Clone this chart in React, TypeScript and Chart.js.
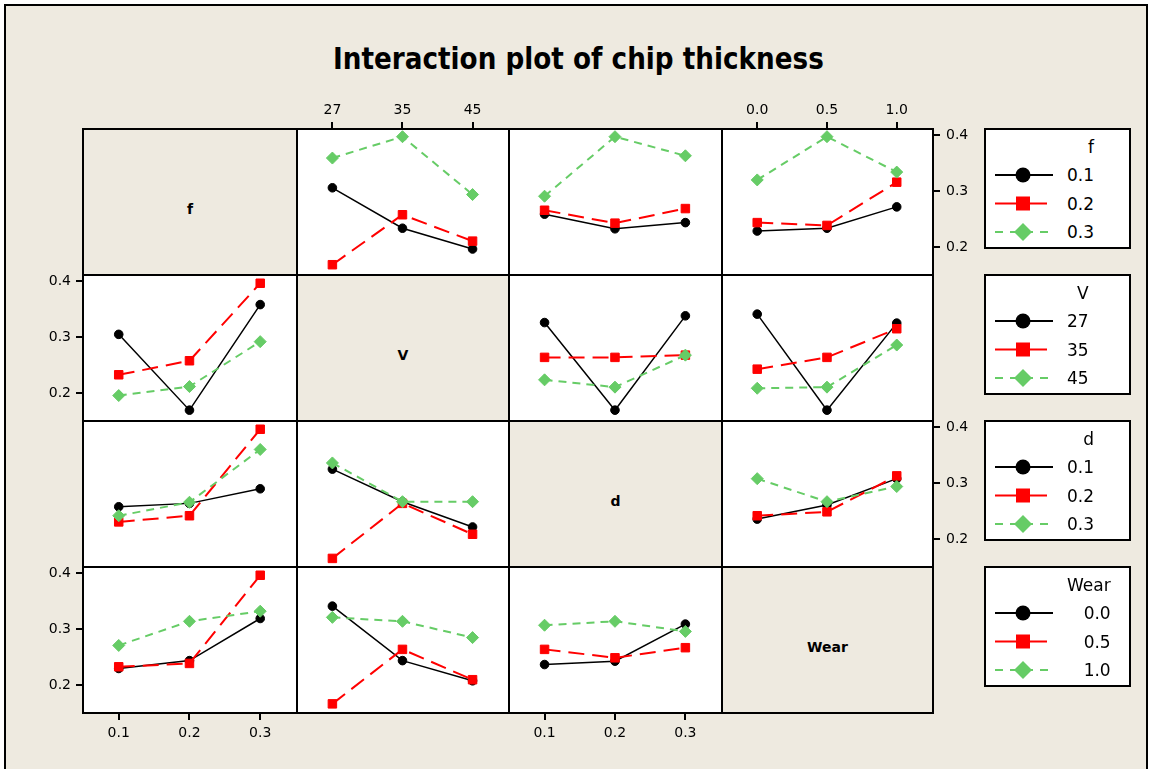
import React, { useEffect, useRef } from 'react';
import { Chart, registerables } from 'chart.js';

Chart.register(...registerables);

const BEIGE = '#EEEAE0';
const FONT = "'DejaVu Sans', Verdana, sans-serif";
Chart.defaults.font.family = FONT;

// ---------- data ----------
const factorNames = ['f', 'V', 'd', 'Wear'];
const fLevels = ['0.1', '0.2', '0.3'];
const vLevels = ['27', '35', '45'];
const dLevels = ['0.1', '0.2', '0.3'];
const wearLevels = ['0.0', '0.5', '1.0'];
const factorLevels = [fLevels, vLevels, dLevels, wearLevels];
const yTickValues = [0.2, 0.3, 0.4];

// Row f: lines = f levels (0.1, 0.2, 0.3)
const f_vs_V = [[0.306, 0.234, 0.197], [0.169, 0.258, 0.211], [0.359, 0.397, 0.294]];
const f_vs_d = [[0.259, 0.233, 0.244], [0.266, 0.243, 0.269], [0.291, 0.397, 0.363]];
const f_vs_Wear = [[0.229, 0.234, 0.272], [0.244, 0.239, 0.316], [0.320, 0.397, 0.334]];
// Row V: lines = V levels (27, 35, 45)
const V_vs_f = [[0.305, 0.170, 0.358], [0.233, 0.258, 0.396], [0.196, 0.212, 0.292]];
const V_vs_d = [[0.326, 0.170, 0.338], [0.264, 0.264, 0.268], [0.224, 0.211, 0.268]];
const V_vs_Wear = [[0.341, 0.170, 0.325], [0.243, 0.264, 0.315], [0.209, 0.211, 0.286]];
// Row d: lines = d levels (0.1, 0.2, 0.3)
const d_vs_f = [[0.258, 0.264, 0.290], [0.231, 0.242, 0.396], [0.242, 0.266, 0.360]];
const d_vs_V = [[0.325, 0.267, 0.222], [0.166, 0.264, 0.209], [0.336, 0.267, 0.267]];
const d_vs_Wear = [[0.236, 0.261, 0.308], [0.242, 0.249, 0.313], [0.308, 0.267, 0.294]];
// Row Wear: lines = Wear levels (0.0, 0.5, 1.0)
const Wear_vs_f = [[0.230, 0.244, 0.319], [0.233, 0.239, 0.396], [0.271, 0.314, 0.332]];
const Wear_vs_V = [[0.341, 0.244, 0.208], [0.167, 0.264, 0.210], [0.321, 0.314, 0.285]];
const Wear_vs_d = [[0.237, 0.243, 0.309], [0.264, 0.249, 0.267], [0.307, 0.314, 0.296]];

const panelData: (number[][] | null)[][] = [
  [null, f_vs_V, f_vs_d, f_vs_Wear],
  [V_vs_f, null, V_vs_d, V_vs_Wear],
  [d_vs_f, d_vs_V, null, d_vs_Wear],
  [Wear_vs_f, Wear_vs_V, Wear_vs_d, null],
];

// ---------- layout & style ----------
const colX = [83, 297, 509, 722, 933];
const rowY = [129, 275, 421, 567, 713];
const M = 60;
const Y_MIN = 0.1507;
const Y_MAX = 0.4107;
const X_MIN = -0.505;
const X_MAX = 2.52;
const TICK_FONT = 14;

const GREEN = '#66CC66';
const seriesStyles = [
  { color: '#000000', dash: [] as number[], width: 1.5, point: 'circle', radius: 4.3 },
  { color: '#FF0000', dash: [16, 8], width: 2, point: 'rect', radius: 6 },
  { color: GREEN, dash: [8, 6], width: 2, point: 'rectRot', radius: 6 },
];

const panelPlugin = {
  id: 'panelFrame',
  beforeDraw(chart: any) {
    const { ctx, chartArea: a } = chart;
    ctx.save();
    ctx.fillStyle = '#ffffff';
    ctx.fillRect(a.left, a.top, a.right - a.left, a.bottom - a.top);
    ctx.restore();
  },
  afterDraw(chart: any) {
    const { ctx, chartArea: a } = chart;
    ctx.save();
    ctx.strokeStyle = '#000000';
    ctx.lineWidth = 2;
    ctx.strokeRect(a.left, a.top, a.right - a.left, a.bottom - a.top);
    ctx.restore();
  },
};

function Panel({ r, c }: { r: number; c: number }) {
  const ref = useRef<HTMLCanvasElement | null>(null);
  const w = colX[c + 1] - colX[c];
  const h = rowY[r + 1] - rowY[r];
  useEffect(() => {
    const series = panelData[r][c] as number[][];
    const xLevels = factorLevels[c];
    const showTop = r === 0 && (c === 1 || c === 3);
    const showBottom = r === 3 && (c === 0 || c === 2);
    const showLeft = c === 0 && (r === 1 || r === 3);
    const showRight = c === 3 && (r === 0 || r === 2);
    const showX = showTop || showBottom;
    const showY = showLeft || showRight;
    const datasets = series.map((vals, i) => {
      const st = seriesStyles[i];
      return {
        label: factorLevels[r][i],
        data: vals.map((v, j) => ({ x: j, y: v })),
        borderColor: st.color,
        backgroundColor: st.color,
        borderWidth: st.width,
        borderDash: st.dash,
        pointStyle: st.point,
        pointRadius: st.radius,
        pointBackgroundColor: st.color,
        pointBorderColor: st.color,
        pointBorderWidth: 1,
        tension: 0,
        fill: false,
        order: 2 - i,
        clip: 10,
      };
    });
    const chart = new Chart(ref.current as HTMLCanvasElement, {
      type: 'line',
      data: { datasets } as any,
      options: {
        animation: false,
        responsive: false,
        maintainAspectRatio: false,
        devicePixelRatio: 1,
        events: [],
        layout: {
          padding: {
            left: showLeft ? 0 : M,
            right: showRight ? 0 : M,
            top: showTop ? 0 : M,
            bottom: showBottom ? 0 : M,
          },
        },
        plugins: { legend: { display: false }, tooltip: { enabled: false } },
        scales: {
          x: {
            type: 'linear',
            min: X_MIN,
            max: X_MAX,
            position: showTop ? 'top' : 'bottom',
            display: showX,
            afterBuildTicks: (s: any) => {
              s.ticks = xLevels.map((_, i) => ({ value: i }));
            },
            afterFit: (s: any) => {
              s.height = showX ? M : 0;
            },
            ticks: {
              callback: (v: any) => xLevels[Math.round(Number(v))] ?? '',
              font: { family: FONT, size: TICK_FONT },
              color: '#000',
              padding: showTop ? 3 : 5,
              maxRotation: 0,
              autoSkip: false,
            },
            grid: { drawOnChartArea: false, drawTicks: true, tickLength: 7, color: '#000', lineWidth: 2 },
            border: { display: false },
          },
          y: {
            type: 'linear',
            min: Y_MIN,
            max: Y_MAX,
            position: showRight ? 'right' : 'left',
            display: showY,
            afterBuildTicks: (s: any) => {
              s.ticks = yTickValues.map((v) => ({ value: v }));
            },
            afterFit: (s: any) => {
              s.width = showY ? M : 0;
            },
            ticks: {
              callback: (v: any) => Number(v).toFixed(1),
              font: { family: FONT, size: TICK_FONT },
              color: '#000',
              padding: showRight ? 6 : 5,
              autoSkip: false,
            },
            grid: { drawOnChartArea: false, drawTicks: true, tickLength: 7, color: '#000', lineWidth: 2 },
            border: { display: false },
          },
        },
      } as any,
      plugins: [panelPlugin],
    });
    return () => chart.destroy();
  }, [r, c]);
  return (
    <canvas
      ref={ref}
      width={w + 2 * M}
      height={h + 2 * M}
      style={{ position: 'absolute', left: colX[c] - M, top: rowY[r] - M, width: w + 2 * M, height: h + 2 * M }}
    />
  );
}

function LegendBox({ r }: { r: number }) {
  const top = rowY[r];
  const levels = factorLevels[r];
  return (
    <div
      style={{
        position: 'absolute',
        left: 984,
        top: top - 1,
        width: 147,
        height: 121,
        border: '2px solid #000',
        boxSizing: 'border-box',
        background: '#fff',
      }}
    >
      <svg width={147} height={121} style={{ position: 'absolute', left: -2, top: -2 }}>
        {levels.map((lv, i) => {
          const y = 47 + i * 28.5;
          if (i === 0)
            return (
              <g key={lv}>
                <line x1={11} x2={69} y1={y} y2={y} stroke="#000" strokeWidth={2} />
                <circle cx={39} cy={y} r={7.5} fill="#000" />
              </g>
            );
          if (i === 1)
            return (
              <g key={lv}>
                <line x1={11} x2={63} y1={y} y2={y} stroke="#FF0000" strokeWidth={2} />
                <rect x={32} y={y - 7} width={14} height={14} fill="#FF0000" />
              </g>
            );
          return (
            <g key={lv}>
              <line x1={11} x2={69} y1={y} y2={y} stroke={GREEN} strokeWidth={2} strokeDasharray="8 7" />
              <polygon points={`${39 - 9},${y} ${39},${y - 9} ${39 + 9},${y} ${39},${y + 9}`} fill={GREEN} />
            </g>
          );
        })}
      </svg>
      <div
        style={{
          position: 'absolute',
          left: 81,
          top: 2.75,
          textAlign: 'right',
          font: `17px/28.5px ${FONT}`,
          whiteSpace: 'nowrap',
          color: '#000',
        }}
      >
        <div>{factorNames[r]}</div>
        {levels.map((l) => (
          <div key={l}>{l}</div>
        ))}
      </div>
    </div>
  );
}

export default function App() {
  const cells: { r: number; c: number }[] = [];
  for (let r = 0; r < 4; r++) for (let c = 0; c < 4; c++) if (r !== c) cells.push({ r, c });
  return (
    <div
      style={{
        position: 'absolute',
        left: 0,
        top: 0,
        width: 1150,
        height: 769,
        overflow: 'hidden',
        background: '#fff',
        fontFamily: FONT,
      }}
    >
      <div
        style={{
          position: 'absolute',
          left: 4,
          top: 4,
          width: 1144,
          height: 800,
          border: '2px solid #000',
          boxSizing: 'border-box',
          background: BEIGE,
        }}
      />
      <div
        style={{
          position: 'absolute',
          left: 3,
          top: 39,
          width: 1150,
          textAlign: 'center',
          font: `bold 30px/40px ${FONT}`,
          color: '#000',
        }}
      >
        <span style={{ display: 'inline-block', transform: 'scaleX(0.875)' }}>Interaction plot of chip thickness</span>
      </div>
      {[0, 1, 2, 3].map((i) => (
        <div
          key={'diag' + i}
          style={{
            position: 'absolute',
            left: colX[i] - 1,
            top: rowY[i] - 1,
            width: colX[i + 1] - colX[i] + 2,
            height: rowY[i + 1] - rowY[i] + 2,
            border: '2px solid #000',
            boxSizing: 'border-box',
            background: BEIGE,
          }}
        >
          <div
            style={{
              position: 'absolute',
              left: 0,
              right: 0,
              top: (rowY[i + 1] - rowY[i]) / 2 - 1 + 7 - 9,
              height: 18,
              textAlign: 'center',
              font: `bold 14px/18px ${FONT}`,
              color: '#000',
            }}
          >
            {factorNames[i]}
          </div>
        </div>
      ))}
      {cells.map(({ r, c }) => (
        <Panel key={`p${r}${c}`} r={r} c={c} />
      ))}
      {[0, 1, 2, 3].map((r) => (
        <LegendBox key={'lg' + r} r={r} />
      ))}
    </div>
  );
}
